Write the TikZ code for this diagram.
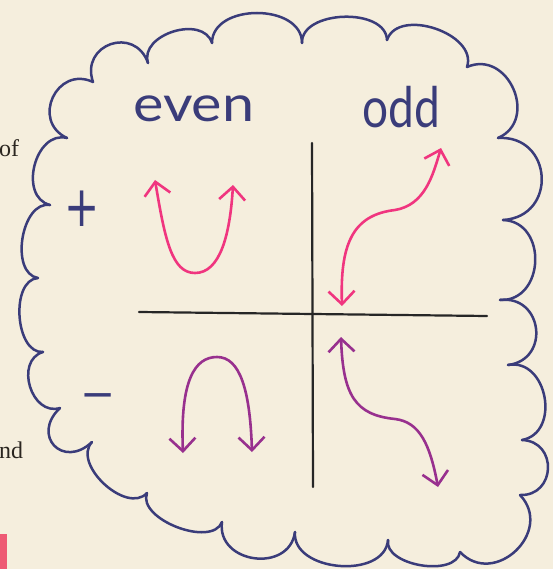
\documentclass[tikz,border=0pt]{standalone}
\usepackage{fontspec}
\usetikzlibrary{arrows.meta,calc}
\newfontfamily\handfont{Lato}
\newfontfamily\symfont{DejaVu Sans}
\newfontfamily\bookfont{Liberation Serif}
\definecolor{paper}{HTML}{F5EEDD}
\definecolor{ink}{HTML}{3A3C7A}
\definecolor{hotpink}{HTML}{F0357F}
\definecolor{plum}{HTML}{98308E}
\definecolor{booktext}{HTML}{2B2620}
\definecolor{tabred}{HTML}{EE5A74}
\begin{document}
\begin{tikzpicture}[x=1pt,y=-1pt,
  cloudline/.style={draw=ink, line width=2.5pt, line cap=round, line join=round},
  axisline/.style={draw=black!85, line width=2.2pt, line cap=round},
  graphtip/.style={{Straight Barb[length=13pt,width=26pt]}-{Straight Barb[length=13pt,width=26pt]}},
  pinkcurve/.style={draw=hotpink, line width=2.6pt, line cap=round, graphtip},
  plumcurve/.style={draw=plum, line width=2.6pt, line cap=round, graphtip},
  handlabel/.style={text=ink, inner sep=0pt, font=\handfont\fontsize{50}{50}\selectfont},
  signlabel/.style={text=ink, inner sep=0pt, font=\symfont\fontsize{42}{42}\selectfont},
  booklabel/.style={text=booktext, inner sep=0pt, anchor=base west, font=\bookfont\fontsize{24}{24}\selectfont}
]
\fill[paper] (0,0) rectangle (553,569);
\useasboundingbox (0,0) rectangle (553,569);

% book page fragments
\node[booklabel] (of) at (-1,157) {of};
\node[booklabel] (nd) at (-1,458) {nd};
\fill[tabred] (0,534) rectangle (7,569);

% cloud cusps
\coordinate (c1) at (67,138);
\coordinate (c2) at (93,82);
\coordinate (c3) at (148,63);
\coordinate (c4) at (212,43);
\coordinate (c5) at (302,43);
\coordinate (c6) at (387,40);
\coordinate (c7) at (467,67);
\coordinate (c8) at (498,138);
\coordinate (c9) at (503,220);
\coordinate (c10) at (500,300);
\coordinate (c11) at (508,365);
\coordinate (c12) at (522,440);
\coordinate (c13) at (520,495);
\coordinate (c14) at (460,552);
\coordinate (c15) at (388,540);
\coordinate (c16) at (295,532);
\coordinate (c17) at (222,522);
\coordinate (c18) at (147,493);
\coordinate (c19) at (92,442);
\coordinate (c20) at (60,408);
\coordinate (c21) at (43,352);
\coordinate (c22) at (38,278);
\coordinate (c23) at (50,205);

\foreach \a/\b/\h in {1/2/40, 2/3/40, 3/4/30, 4/5/40, 5/6/33, 6/7/35, 7/8/45,
  8/9/55, 9/10/45, 10/11/43, 11/12/40, 12/13/36, 13/14/50, 14/15/26, 15/16/40,
  16/17/42, 17/18/28, 18/19/30, 19/20/40, 20/21/30, 21/22/28, 22/23/29, 23/1/33}
  \draw[cloudline] (c\a) .. controls ($(c\a)!\h pt!90:(c\b)$) and ($(c\b)!\h pt!-90:(c\a)$) .. (c\b);

% column labels
\node[handlabel, anchor=base west, xscale=1.15] (even) at (133,122) {even};
\node[handlabel, anchor=base west, xscale=0.92, yscale=1.12] (odd) at (362,128) {odd};

% row labels
\node[signlabel, yscale=1.35] (plus) at (82,209) {+};
\node[signlabel] (minus) at (98,401) {−};

% axes
\coordinate (vtop) at (312,143);
\coordinate (vbot) at (313,487);
\coordinate (hleft) at (139,312);
\coordinate (hright) at (487,316);
\draw[axisline] (vtop) -- (vbot);
\draw[axisline] (hleft) -- (hright);

% even, positive
\coordinate (epL) at (155,180);
\coordinate (epB) at (195,273);
\coordinate (epR) at (233,185);
\draw[pinkcurve] (epL) .. controls (165,240) and (172,273) .. (epB)
  .. controls (220,273) and (230,235) .. (epR);

% odd, positive
\coordinate (opS) at (342,306);
\coordinate (opM) at (395,210);
\coordinate (opE) at (441,148);
\draw[pinkcurve] (opS) .. controls (340,245) and (352,215) .. (opM)
  .. controls (425,205) and (433,175) .. (opE);

% even, negative
\coordinate (enL) at (183,453);
\coordinate (enT) at (217,357);
\coordinate (enR) at (252,452);
\draw[plumcurve] (enL) .. controls (180,380) and (195,357) .. (enT)
  .. controls (240,357) and (250,390) .. (enR);

% odd, negative
\coordinate (onS) at (341,337);
\coordinate (onM) at (395,419);
\coordinate (onE) at (438,487);
\draw[plumcurve] (onS) .. controls (343,395) and (355,415) .. (onM)
  .. controls (420,422) and (430,445) .. (onE);
\end{tikzpicture}
\end{document}
